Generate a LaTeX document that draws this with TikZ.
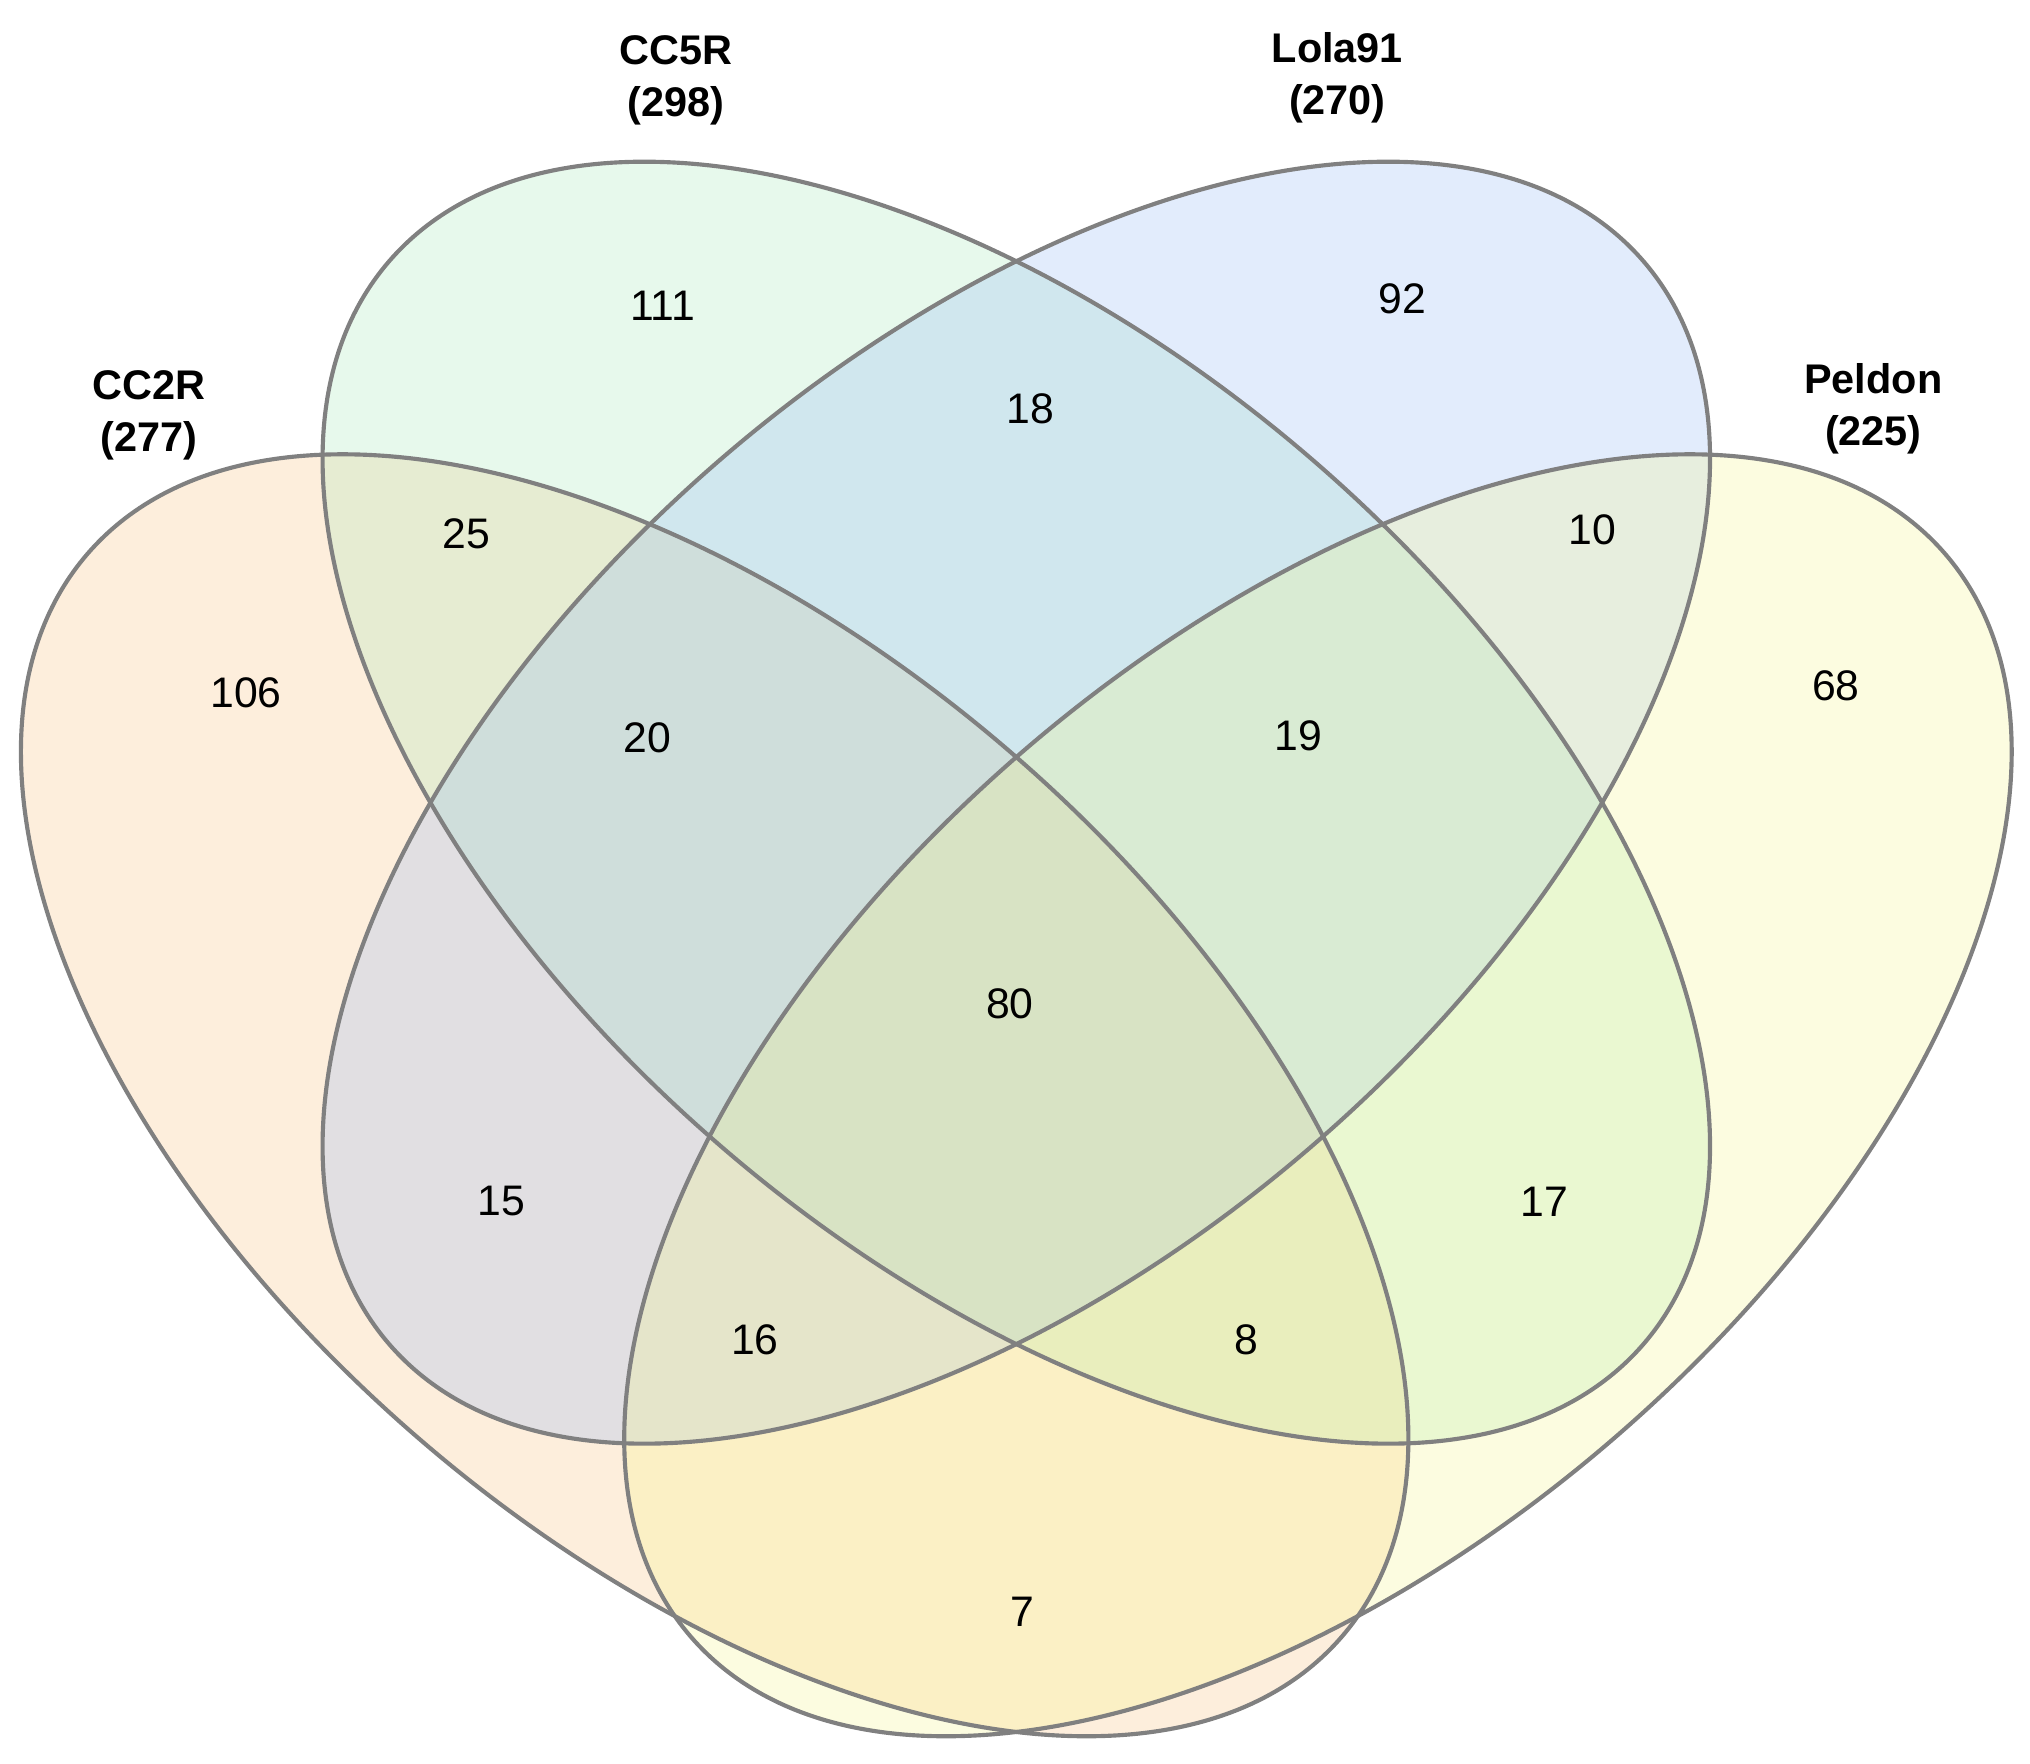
\documentclass[tikz,border=0pt]{standalone}
\usepackage{fontspec}
\setmainfont{Liberation Sans}
\begin{document}
\begin{tikzpicture}[x=1pt,y=-1pt,
  num/.style={font=\fontsize{33}{33}\selectfont},
  lab/.style={font=\fontsize{32}{40}\selectfont\bfseries,align=center},
  edge/.style={draw=black!50,line width=3.2pt}]
\useasboundingbox (0,0) rectangle (1568,1362);
\definecolor{cA}{RGB}{250,200,140}
\definecolor{cB}{RGB}{160,230,180}
\definecolor{cC}{RGB}{140,180,245}
\definecolor{cD}{RGB}{245,245,130}
\fill[cA,fill opacity=0.3] (552,846) ellipse [x radius=640,y radius=350,rotate=-40.8];
\fill[cB,fill opacity=0.25] (785,620) ellipse [x radius=640,y radius=350,rotate=-40.8];
\fill[cC,fill opacity=0.25] (785,620) ellipse [x radius=640,y radius=350,rotate=40.8];
\fill[cD,fill opacity=0.25] (1018,846) ellipse [x radius=640,y radius=350,rotate=40.8];
\draw[edge] (552,846) ellipse [x radius=640,y radius=350,rotate=-40.8];
\draw[edge] (785,620) ellipse [x radius=640,y radius=350,rotate=-40.8];
\draw[edge] (785,620) ellipse [x radius=640,y radius=350,rotate=40.8];
\draw[edge] (1018,846) ellipse [x radius=640,y radius=350,rotate=40.8];
\node[lab] (lB) at (522,62) {CC5R\\(298)};
\node[lab] (lC) at (1033,60) {Lola91\\(270)};
\node[lab] (lA) at (115,321) {CC2R\\(277)};
\node[lab] (lD) at (1447,316) {Peldon\\(225)};
\node[num] (n1) at (512,236) {111};
\node[num] (n2) at (1083,231) {92};
\node[num] (n3) at (796,316) {18};
\node[num] (n4) at (360,412) {25};
\node[num] (n5) at (1230,409) {10};
\node[num] (n6) at (190,535) {106};
\node[num] (n7) at (1418,530) {68};
\node[num] (n8) at (500,570) {20};
\node[num] (n9) at (1003,568) {19};
\node[num] (n10) at (780,775) {80};
\node[num] (n11) at (387,928) {15};
\node[num] (n12) at (1193,928) {17};
\node[num] (n13) at (583,1035) {16};
\node[num] (n14) at (963,1035) {8};
\node[num] (n15) at (790,1245) {7};
\end{tikzpicture}
\end{document}
